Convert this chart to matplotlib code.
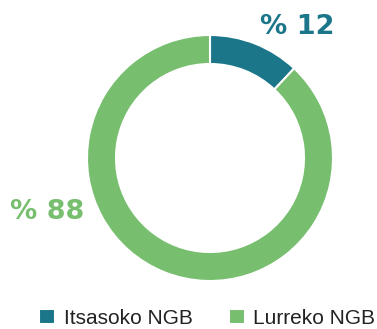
import matplotlib
matplotlib.use("Agg")
import matplotlib.pyplot as plt

# share of NGB by type
labels = ['Itsasoko NGB', 'Lurreko NGB']
values = [12, 88]
colors = ['#1b7689', '#77bf6f']

fig = plt.figure(figsize=(3.77, 3.29), dpi=100)
ax = fig.add_axes([0, 0, 1, 1])

# work in pixel-like data units, y going up
wedges, _ = ax.pie(values, colors=colors, center=(210, 171), radius=123,
                   startangle=90, counterclock=False,
                   wedgeprops=dict(width=29, edgecolor='white', linewidth=1.5))
ax.set_xlim(0, 377)
ax.set_ylim(0, 329)
ax.set_aspect('equal')
ax.axis('off')

ax.text(297, 302, f'% {values[0]}', color=colors[0], fontsize=19.5,
        fontweight='bold', family='DejaVu Sans', ha='center', va='center')
ax.text(47, 117, f'% {values[1]}', color=colors[1], fontsize=19.5,
        fontweight='bold', family='DejaVu Sans', ha='center', va='center')

leg = ax.legend(wedges, labels, loc='lower left', bbox_to_anchor=(31 / 377, -0.022),
                ncol=2, frameon=False, handlelength=0.77, handleheight=0.77,
                handletextpad=0.4, columnspacing=1.75, borderaxespad=0,
                prop=dict(family='Liberation Sans', size=15))
for t in leg.get_texts():
    t.set_color('#222222')

fig.savefig('out.png', dpi=100)
